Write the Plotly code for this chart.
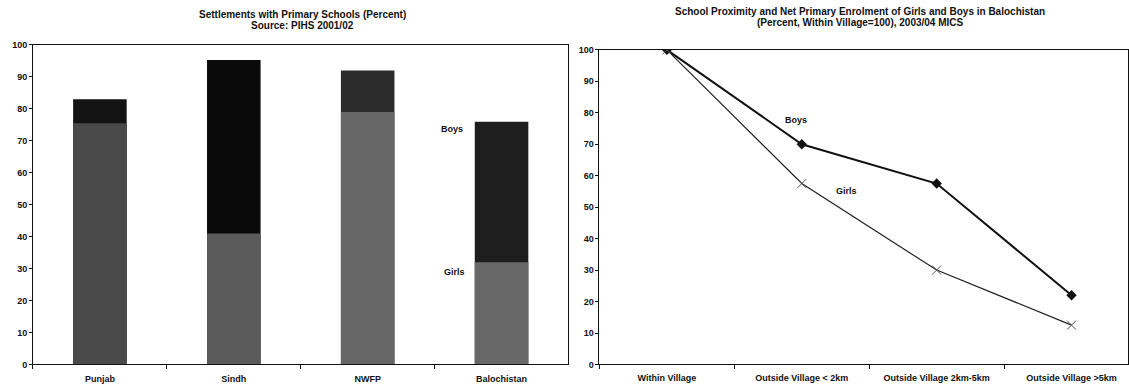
import plotly.graph_objects as go

# ---- data ----
provinces = ["Punjab", "Sindh", "NWFP", "Balochistan"]
settle_boys = [83, 95.3, 92, 76]
settle_girls = [75.5, 41, 79, 32]

distance = ["Within Village", "Outside Village < 2km", "Outside Village 2km-5km", "Outside Village >5km"]
enrol_boys = [100, 70, 57.5, 22]
enrol_girls = [100, 57.5, 30, 12.5]

W, H = 1129, 387
FONT = "Liberation Sans, Arial, sans-serif"

def px(x):
    return x / W

def py(y):
    return (H - y) / H

fig = go.Figure()

boys_colors = ["#141414", "#0a0a0a", "#2c2c2c", "#1e1e1e"]
girls_colors = ["#4a4a4a", "#5a5a5a", "#666666", "#686868"]

fig.add_trace(go.Bar(x=provinces, y=settle_boys, name="Boys", marker=dict(color=boys_colors, line=dict(width=0)),
                     width=0.4, xaxis="x", yaxis="y", showlegend=False))
fig.add_trace(go.Bar(x=provinces, y=settle_girls, name="Girls", marker=dict(color=girls_colors, line=dict(width=0)),
                     width=0.4, xaxis="x", yaxis="y", showlegend=False))

fig.add_trace(go.Scatter(x=distance, y=enrol_boys, mode="lines+markers", name="Boys",
                         line=dict(color="#111111", width=2),
                         marker=dict(symbol="diamond", size=8, color="#111111"),
                         xaxis="x2", yaxis="y2", showlegend=False))
fig.add_trace(go.Scatter(x=distance, y=enrol_girls, mode="lines+markers", name="Girls",
                         line=dict(color="#222222", width=1.2),
                         marker=dict(symbol="x-thin", size=9, color="#555555", line=dict(width=1, color="#555555")),
                         xaxis="x2", yaxis="y2", showlegend=False))

axis_common = dict(showgrid=False, zeroline=False, showline=True, linecolor="#111111", linewidth=1,
                   mirror=True, ticks="outside", tickcolor="#111111", tickwidth=1,
                   tickfont=dict(family=FONT, size=9, color="#111111", weight="bold"))

fig.update_layout(
    width=W, height=H,
    margin=dict(l=0, r=0, t=0, b=0),
    paper_bgcolor="white", plot_bgcolor="white",
    barmode="overlay",
    xaxis=dict(axis_common, domain=[px(33), px(569)], range=[-0.5, 3.5], tickson="boundaries", ticklen=4,
               ticklabelstandoff=6, anchor="y"),
    yaxis=dict(axis_common, domain=[py(369), py(41)], range=[0, 100], dtick=10, ticklen=3, anchor="x"),
    xaxis2=dict(axis_common, domain=[px(600), 1], range=[-0.5, -0.5 + 529 / 135], tickson="boundaries",
                ticklen=4, ticklabelstandoff=5, anchor="y2"),
    yaxis2=dict(axis_common, domain=[py(369), py(46)], range=[0, 100], dtick=10, ticklen=3, anchor="x2"),
    font=dict(family=FONT, color="#111111"),
)

def note(text, x, y, size=9):
    fig.add_annotation(text=text, x=px(x), y=py(y), xref="paper", yref="paper", showarrow=False,
                       font=dict(family=FONT, size=size, color="#111111", weight="bold"),
                       xanchor="center", yanchor="middle", align="center")

note("Settlements with Primary Schools (Percent)", 303, 10, 10)
note("Source: PIHS 2001/02", 303, 21, 10)
note("School Proximity and Net Primary Enrolment of Girls and Boys in Balochistan", 861, 7, 10)
note("(Percent, Within Village=100), 2003/04 MICS", 861, 18, 10)
note("Boys", 452, 127)
note("Girls", 455, 274)
note("Boys", 797, 118)
note("Girls", 847, 191)

fig.write_html("out.html", config={"displayModeBar": False},
               post_script="document.body.style.margin='0';document.body.style.overflow='hidden';")
